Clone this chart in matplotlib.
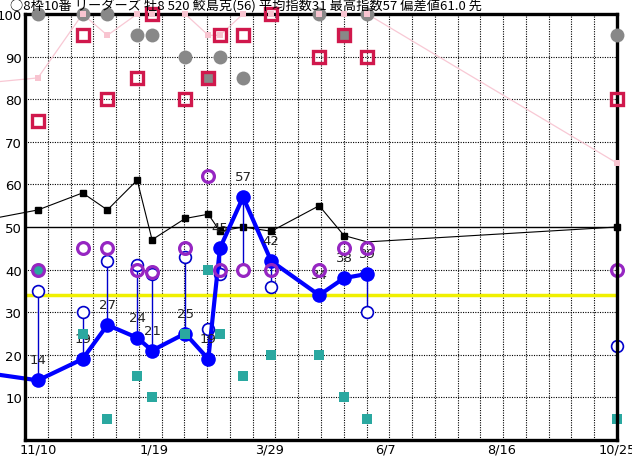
import numpy as np
import matplotlib
matplotlib.use("Agg")
import matplotlib.pyplot as plt

plt.rcParams['font.family'] = ['DejaVu Sans']

# days counted from 11/10
days = [0, 27, 42, 60, 69, 89, 103, 110, 124, 141, 170, 185, 199, 350]
index_vals = [14, 19, 27, 24, 21, 25, 19, 45, 57, 42, 34, 38, 39, 5]
upper_vals = [35, 30, 42, 41, 39, 43, 26, 39, 40, 36, np.nan, np.nan, 30, 22]
purple_vals = [40, 45, 45, 40, 39.5, 45, 62, 40, 40, 40, 40, 45, 45, 40]
teal_vals = [40, 25, 5, 15, 10, 25, 40, 25, 15, 20, 20, 10, 5, 5]
black_vals = [54, 58, 54, 61, 47, 52, 53, 49, 50, 49, 55, 48, 46.5, 50]
black_shown = [1, 1, 1, 1, 1, 1, 1, 1, 1, 1, 1, 1, 0, 1]
pink_vals = [85, 100, 95, 100, 100, 100, 95, 95, 100, 100, 100, 100, 100, 65]
red_vals = [75, 95, 80, 85, 100, 80, 85, 95, 95, 100, 90, 95, 90, 80]
gray_vals = [100, 100, 100, 95, 95, 90, 85, 90, 85, np.nan, 100, 95, 100, 95]

# previous race (off the left edge)
prev_day = -27
prev_index = 15.5
prev_black = 52
prev_pink = 84

yellow_level = 34

xtick_pos = [0, 70, 140, 210, 280, 350]
xtick_labels = ["11/10", "1/19", "3/29", "6/7", "8/16", "10/25"]
ytick_pos = [10, 20, 30, 40, 50, 60, 70, 80, 90, 100]

title = "○8枠10番 リーダーズ 牡8 520 鮫島克(56) 平均指数31 最高指数57 偏差値61.0 先"

x_lo, x_hi = -7.8, 350

fig = plt.figure(figsize=(6.32, 4.60), dpi=100)
ax = fig.add_axes([25 / 632, 19 / 460, 592 / 632, 426 / 460])
ax.set_xlim(x_lo, x_hi)
ax.set_ylim(0, 100)

# grid
for k in range(1, 26):
    gx = x_lo + k * (x_hi - x_lo) / 26
    ax.axvline(gx, color="black", lw=0.8, ls=(0, (1, 1.2)), zorder=1)
for gy in [10, 20, 30, 40, 60, 70, 80, 90]:
    ax.axhline(gy, color="black", lw=0.8, ls=(0, (1, 1.2)), zorder=1)
ax.axhline(50, color="black", lw=1.0, zorder=1)
ax.axhline(yellow_level, color="#f0f000", lw=2.5, zorder=2)

n = len(days)
d = np.array(days)

# black line
ax.plot([prev_day] + days, [prev_black] + black_vals, "-", color="black", lw=0.8,
        zorder=5, clip_on=False)
bmask = np.array(black_shown) == 1
ax.plot(d[bmask], np.array(black_vals)[bmask], "s", color="black", ms=4.5,
        zorder=5, clip_on=False)

# stems to open circles
for i in range(n):
    if not np.isnan(upper_vals[i]):
        ax.plot([days[i], days[i]], [index_vals[i], upper_vals[i]], color="#0000cc",
                lw=1.0, zorder=6, clip_on=False)
ax.plot(d, upper_vals, "o", mfc="white", mec="#0000cc", ms=8.5, mew=1.2, zorder=6.5, clip_on=False)

# blue index line
ax.plot([prev_day] + days[:-1], [prev_index] + index_vals[:-1], "-", color="#0000ff",
        lw=3, zorder=7, clip_on=False)
ax.plot(d[:-1], index_vals[:-1], "o", color="#0000ff", ms=10.5, mew=0, zorder=7.1)

for x, v in zip(days[:-1], index_vals[:-1]):
    ax.annotate(str(v), (x, v), xytext=(0, 10), textcoords="offset points",
                ha="center", va="bottom", fontsize=9.5, color="#222222", zorder=7.5)

# teal squares
ax.plot(d, teal_vals, "s", color="#2aa8a0", ms=7, mew=0, zorder=8, clip_on=False)
# purple circles
ax.plot(d, purple_vals, "o", mfc="none", mec="#9626c2", ms=8.5, mew=2.3, zorder=8.2, clip_on=False)

# gray circles, pink line, red hollow squares (drawn over the frame)
ax.plot(d, gray_vals, "o", color="#888888", ms=10, mew=0, zorder=8.6, clip_on=False)
ax.plot([prev_day] + days, [prev_pink] + pink_vals, "-", color="#f8c8d4", lw=0.9,
        zorder=3.5, clip_on=False)
ax.plot(d, pink_vals, "s", color="#f8c4d0", ms=4.5, mew=0, zorder=8.7, clip_on=False)
ax.plot(d, red_vals, "s", mfc="none", mec="#d0184c", ms=8, mew=2.4, zorder=8.8, clip_on=False)

for s in ax.spines.values():
    s.set_linewidth(2.4)
    s.set_zorder(8.5)

ax.set_xticks(xtick_pos)
ax.set_xticklabels(xtick_labels, fontsize=9.3)
ax.set_yticks(ytick_pos)
ax.set_yticklabels([str(v) for v in ytick_pos], fontsize=9.5)
ax.tick_params(length=0, pad=2)

fig.text(10 / 632, 1 - 6 / 460, title, ha="left", va="center", fontsize=9.5,
         family=["Noto Sans CJK JP", "DejaVu Sans"])

fig.savefig("out.png", dpi=100)
